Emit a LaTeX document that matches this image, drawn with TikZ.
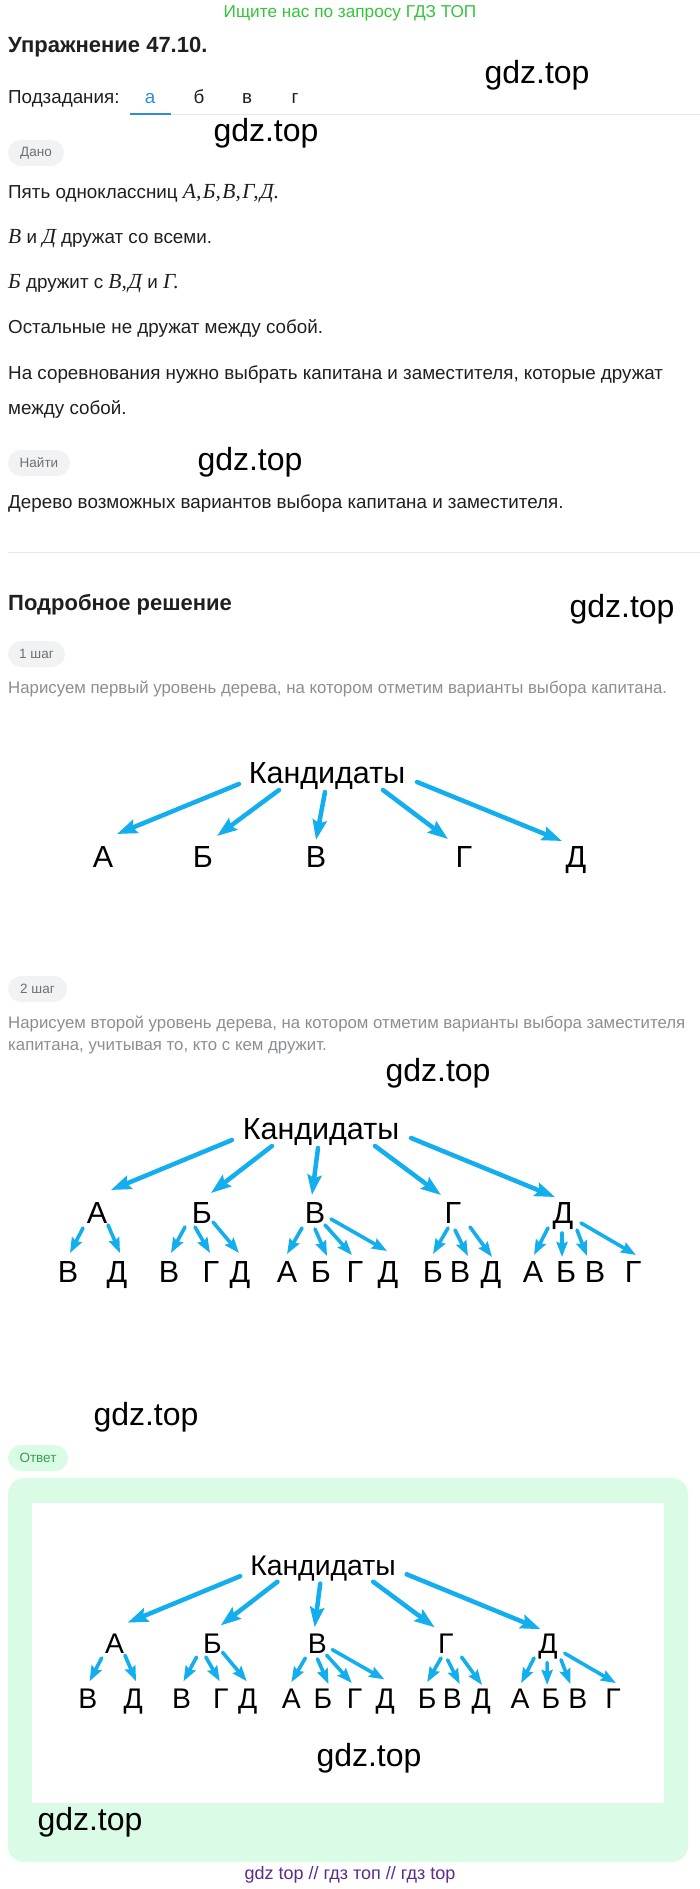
\documentclass[tikz,border=0pt]{standalone}
\usepackage{fontspec}
\setmainfont{Liberation Sans}
\newfontfamily\seriffont{Liberation Serif}
\usetikzlibrary{arrows.meta}

\definecolor{textdark}{HTML}{1F1F1F}
\definecolor{textgray}{HTML}{8B8E94}
\definecolor{pillfill}{HTML}{F1F2F4}
\definecolor{pilltext}{HTML}{6D7077}
\definecolor{tabblue}{HTML}{2E8FD6}
\definecolor{rulegray}{HTML}{E8E8E8}
\definecolor{topgreen}{HTML}{36C43C}
\definecolor{mint}{HTML}{DAFCE6}
\definecolor{answertext}{HTML}{3B9B4F}
\definecolor{footpurple}{HTML}{5A2C8E}
\definecolor{arrowblue}{HTML}{12AEEE}

\newcommand{\letit}[1]{{\seriffont\itshape\fontsize{21.5}{24}\selectfont #1}}

\tikzset{
  txt/.style={anchor=west, inner sep=0pt, text height=13pt, text depth=0pt, text=textdark, font=\fontsize{18.8}{22}\selectfont},
  hint/.style={txt, text=textgray, text height=12pt, font=\fontsize{16.8}{20}\selectfont},
  head/.style={txt, text height=16pt, font=\bfseries\fontsize{22}{26}\selectfont},
  pill/.style={fill=pillfill, rounded corners=13pt, inner sep=0pt, minimum height=26pt, text=pilltext, font=\fontsize{13.5}{16}\selectfont},
  wm/.style={inner sep=0pt, font=\fontsize{32}{36}\selectfont},
  tl/.style={inner sep=0pt, text height=22pt, text depth=0pt, font=\fontsize{30.5}{34}\selectfont},
  arr/.style={draw=arrowblue, line width=4.5pt, line cap=round, -{Stealth[length=20pt, width=14pt, inset=3pt]}},
  arrs/.style={arr, line width=3.6pt, -{Stealth[length=15pt, width=11pt, inset=2pt]}}
}

\begin{document}
\begin{tikzpicture}[x=1pt, y=-1pt]
  \useasboundingbox[fill=white] (0,0) rectangle (700,1889);

  % шапка
  \node[txt, anchor=center, text=topgreen, text height=12pt, font=\fontsize{17.2}{20}\selectfont] (promo) at (350,12) {Ищите нас по запросу ГДЗ ТОП};
  \node[head] (title) at (8,45) {Упражнение 47.10.};
  \node[txt] (subtasks) at (8,97) {Подзадания:};
  \node[txt, anchor=base, text=tabblue] (tab1) at (150,103.5) {а};
  \node[txt, anchor=base] (tab2) at (199,103.5) {б};
  \node[txt, anchor=base] (tab3) at (247,103.5) {в};
  \node[txt, anchor=base] (tab4) at (295,103.5) {г};
  \draw[rulegray, line width=1pt] (171,115) -- (700,115);
  \draw[tabblue, line width=2.5pt] (130,114) -- (171,114);

  % дано
  \node[pill, minimum width=56pt] (given) at (36,153) {Дано};
  \node[txt] (line1) at (8,192) {Пять одноклассниц \letit{А,\kern1.5ptБ,\kern1.5ptВ,\kern1.5ptГ,\kern1.5ptД.}};
  \node[txt] (line2) at (8,237) {\letit{В} и \letit{Д} дружат со всеми.};
  \node[txt] (line3) at (8,282) {\letit{Б} дружит с \letit{В,\kern1.5ptД} и \letit{Г.}};
  \node[txt] (line4) at (8,327) {Остальные не дружат между собой.};
  \node[txt] (line5) at (8,373) {На соревнования нужно выбрать капитана и заместителя, которые дружат};
  \node[txt] (line6) at (8,408) {между собой.};
  \node[pill, minimum width=62pt] (find) at (39,463) {Найти};
  \node[txt] (line7) at (8,502) {Дерево возможных вариантов выбора капитана и заместителя.};
  \draw[rulegray, line width=1pt] (8,552) -- (700,552);

  % решение
  \node[head] (solution) at (8,602) {Подробное решение};
  \node[pill, minimum width=57pt] (step1) at (36.5,654) {1 шаг};
  \node[hint] (hint1) at (8,687) {Нарисуем первый уровень дерева, на котором отметим варианты выбора капитана.};

  \begin{scope}[shift={(327,772)}]
    \node[tl] (t1-k) at (0,0) {Кандидаты};
    \foreach \n/\x/\s in {a/-224/А, b/-124/Б, v/-11/В, g/137/Г, d/249/Д}
      \node[tl] (t1-\n) at (\x,84) {\s};
    \foreach \c/\sx/\sy/\ex/\ey in {a/-88/12/14/-22, b/-48/18/14/-20, v/-2/20/0/-16, g/56/18/-16/-17, d/90/10/-14/-15}
      \draw[arr] ([shift={(\sx,\sy)}]t1-k.center) -- ([shift={(\ex,\ey)}]t1-\c.center);
  \end{scope}

  \node[pill, minimum width=59pt] (step2) at (37.5,989) {2 шаг};
  \node[hint] (hint2) at (8,1022) {Нарисуем второй уровень дерева, на котором отметим варианты выбора заместителя};
  \node[hint] (hint3) at (8,1044) {капитана, учитывая то, кто с кем дружит.};

  % ответ
  \node[pill, minimum width=60pt, fill=mint, text=answertext] (answer) at (38,1458) {Ответ};
  \fill[mint, rounded corners=16pt] (8,1478) rectangle (688,1862);
  \fill[white] (32,1503) rectangle (664,1803);

  % деревья шаг 2 и ответ
  \foreach \tr/\px/\py/\sc in {t2/321/1128/1, t3/323/1565/0.93}{
    \begin{scope}[shift={(\px,\py)}, scale=\sc, transform shape]
      \node[tl] (\tr-k) at (0,0) {Кандидаты};
      \foreach \n/\x/\s in {a/-224/А, b/-119/Б, v/-6/В, g/132/Г, d/242/Д}
        \node[tl] (\tr-\n) at (\x,84) {\s};
      \foreach \n/\x/\s in {av/-253/В, ad/-204/Д, bv/-152/В, bg/-110/Г, bd/-81/Д, va/-34/А, vb/0/Б, vg/34/Г, vd/67/Д,
                            gb/112/Б, gv/139/В, gd/170/Д, da/212/А, db/245/Б, dv/274/В, dg/312/Г}
        \node[tl] (\tr-\n) at (\x,143) {\s};
      \foreach \c/\sx/\sy/\ex/\ey in {a/-89/12/14/-22, b/-49/18/9/-19, v/-3/20/-3/-17, g/54/18/-12/-17, d/90/10/-8/-15}
        \draw[arr] ([shift={(\sx,\sy)}]\tr-k.center) -- ([shift={(\ex,\ey)}]\tr-\c.center);
      \foreach \p/\c/\sx/\sy/\ex/\ey in {a/av/-14/16/2/-18, a/ad/11/13/3/-18, b/bv/-17/15/2/-18, b/bg/-7/15/-1/-18,
                                         b/bd/11/10/-1/-18, v/va/-13/16/0/-17, v/vb/0/17/6/-15, v/vg/10/13/-3/-16,
                                         v/vd/16/7/-1/-20, g/gb/-5/16/0/-17, g/gv/2/18/8/-15, g/gd/17/15/1/-14,
                                         d/da/-15/16/1/-16, d/db/-1/21/-4/-14, d/dv/14/18/-8/-15, d/dg/18/11/3/-16}
        \draw[arrs] ([shift={(\sx,\sy)}]\tr-\p.center) -- ([shift={(\ex,\ey)}]\tr-\c.center);
    \end{scope}
  }

  % водяные знаки
  \node[wm] (wm1) at (537,75) {gdz.top};
  \node[wm] (wm2) at (266,133) {gdz.top};
  \node[wm] (wm3) at (250,462) {gdz.top};
  \node[wm] (wm4) at (622,609) {gdz.top};
  \node[wm] (wm5) at (438,1073) {gdz.top};
  \node[wm] (wm6) at (146,1417) {gdz.top};
  \node[wm] (wm7) at (369,1758) {gdz.top};
  \node[wm] (wm8) at (90,1822) {gdz.top};

  \node[inner sep=0pt, text=footpurple, font=\fontsize{18}{20}\selectfont] (footer) at (350,1875) {gdz top // гдз топ // гдз top};
\end{tikzpicture}
\end{document}
